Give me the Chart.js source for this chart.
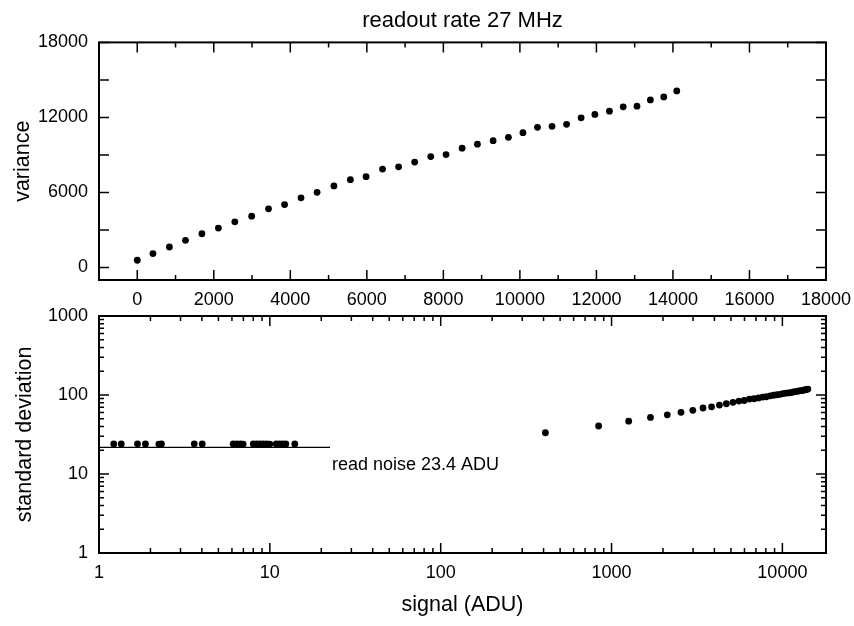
<!DOCTYPE html>
<html>
<head>
<meta charset="utf-8">
<script src="https://cdn.jsdelivr.net/npm/chart.js@4.4.1/dist/chart.umd.min.js"></script>
<style>
  html, body { margin: 0; padding: 0; background: #fff; }
  #wrap { position: relative; width: 854px; height: 626px; }
  canvas { position: absolute; left: 0; }
  #top { top: 0; }
  #bottom { top: 296px; }
</style>
</head>
<body>
<div id="wrap">
  <canvas id="top" width="854" height="312"></canvas>
  <canvas id="bottom" width="854" height="330"></canvas>
</div>
<script>
// variance vs signal (linear panel)
const signalTop = [0, 410, 840, 1260, 1690, 2120, 2550, 2990, 3430, 3850, 4280, 4700, 5140, 5570, 5980,
  6410, 6830, 7250, 7670, 8070, 8490, 8890, 9300, 9700, 10080, 10460, 10840, 11220, 11600, 11960,
  12340, 12700, 13060, 13410, 13760, 14100];
const varianceTop = [580, 1110, 1640, 2170, 2700, 3150, 3650, 4100, 4690, 5030, 5570, 6010, 6520, 7020, 7260,
  7870, 8050, 8430, 8870, 9030, 9540, 9860, 10140, 10410, 10780, 11210, 11290, 11450, 11970, 12240,
  12500, 12850, 12900, 13400, 13640, 14120];

// standard deviation vs signal (log panel): bias/dark cluster + illuminated frames
const signalLow = [1.22, 1.35, 1.68, 1.87, 2.24, 2.32, 3.61, 4.02, 6.1, 6.4, 6.74, 6.98, 8.0, 8.37,
  8.75, 9.15, 9.58, 10.0, 10.9, 11.4, 11.9, 12.4, 14.0];
const sdLow = [24.0, 24.0, 24.1, 24.0, 23.9, 24.0, 24.1, 24.0, 24.0, 24.1, 24.0, 23.9, 24.0, 24.0,
  24.1, 24.0, 24.0, 23.9, 24.0, 24.1, 24.0, 24.0, 24.0];
const signalHigh = [410, 840, 1260, 1690, 2120, 2550, 2990, 3430, 3850, 4280, 4700, 5140, 5570, 5980,
  6410, 6830, 7250, 7670, 8070, 8490, 8890, 9300, 9700, 10080, 10460, 10840, 11220, 11600, 11960,
  12340, 12700, 13060, 13410, 13760, 14100];
const sdHigh = [33.3, 40.5, 46.6, 52.0, 56.1, 60.4, 64.0, 68.5, 70.9, 74.6, 77.5, 80.7, 83.8, 85.2,
  88.7, 89.7, 91.8, 94.2, 95.0, 97.7, 99.3, 100.7, 102.0, 103.8, 105.9, 106.3, 107.0, 109.4, 110.6,
  111.8, 113.4, 113.6, 115.8, 116.8, 118.8];

// read noise line
const noiseX = [1, 22.5];
const noiseY = [21.7, 21.7];
const noiseLabel = 'read noise 23.4 ADU';

// tick labels
const topXTicks = [0, 2000, 4000, 6000, 8000, 10000, 12000, 14000, 16000, 18000];
const topYTicks = [0, 6000, 12000, 18000];
const logXTicks = [1, 10, 100, 1000, 10000];
const logYTicks = [1, 10, 100, 1000];

const FONT = '"Liberation Sans", Arial, Helvetica, sans-serif';
const BLACK = '#000';

function toPoints(xs, ys) {
  return xs.map((x, i) => ({ x: x, y: ys[i] }));
}

// positions for the inward tick marks
function linearMarks(from, to, major, minor) {
  const out = [];
  for (let v = from; v <= to; v += minor) out.push([v, v % major === 0 ? 10 : 5]);
  return out;
}
function logMarks(lo, hi) {
  const out = [];
  for (let d = lo; d <= hi; d *= 10) {
    for (let m = 1; m < 10; m++) {
      const v = d * m;
      if (v > hi * 1.8) break;
      out.push([v, m === 1 ? 10 : 5]);
    }
  }
  return out;
}

// frame box + ticks pointing into the plot on all four sides
function frameTicks(xMarks, yMarks) {
  return {
    id: 'frameTicks',
    afterDatasetsDraw(chart) {
      const { ctx, chartArea: a, scales } = chart;
      ctx.save();
      ctx.strokeStyle = BLACK;
      ctx.lineWidth = 1.5;
      ctx.beginPath();
      xMarks.forEach(([v, len]) => {
        const px = scales.x.getPixelForValue(v);
        if (px < a.left + 1 || px > a.right - 1) return;
        ctx.moveTo(px, a.bottom); ctx.lineTo(px, a.bottom - len);
        ctx.moveTo(px, a.top); ctx.lineTo(px, a.top + len);
      });
      yMarks.forEach(([v, len]) => {
        const py = scales.y.getPixelForValue(v);
        if (py < a.top - 1 || py > a.bottom + 1) return;
        ctx.moveTo(a.left, py); ctx.lineTo(a.left + len, py);
        ctx.moveTo(a.right, py); ctx.lineTo(a.right - len, py);
      });
      ctx.stroke();
      ctx.lineWidth = 2;
      ctx.strokeRect(a.left, a.top, a.right - a.left, a.bottom - a.top);
      ctx.restore();
    }
  };
}

const noiseText = {
  id: 'noiseText',
  afterDatasetsDraw(chart) {
    const { ctx, scales } = chart;
    ctx.save();
    ctx.fillStyle = BLACK;
    ctx.font = '18px ' + FONT;
    ctx.textAlign = 'left';
    ctx.textBaseline = 'middle';
    ctx.fillText(noiseLabel, scales.x.getPixelForValue(23.1), scales.y.getPixelForValue(13));
    ctx.restore();
  }
};

function fixedTicks(values) {
  return scale => { scale.ticks = values.map(v => ({ value: v })); };
}
// fixed axis size, and no extra room for labels hanging over the plot edges
function fixSize(prop, size) {
  return scale => {
    scale[prop] = size;
    scale.paddingLeft = scale.paddingRight = scale.paddingTop = scale.paddingBottom = 0;
  };
}

const tickFont = { family: FONT, size: 18 };
const titleFont = { family: FONT, size: 21.5 };
const plain = v => String(v);
const dots = { backgroundColor: BLACK, borderColor: BLACK, borderWidth: 0, pointRadius: 3.4, pointHoverRadius: 3.4 };

new Chart(document.getElementById('top'), {
  type: 'scatter',
  data: {
    datasets: [Object.assign({ data: toPoints(signalTop, varianceTop) }, dots)]
  },
  options: {
    responsive: false,
    animation: false,
    events: [],
    layout: { padding: { left: 0, right: 28, top: 0, bottom: 0 } },
    plugins: {
      legend: { display: false },
      tooltip: { enabled: false },
      title: {
        display: true,
        text: 'readout rate 27 MHz',
        color: BLACK,
        fullSize: false,
        font: { family: FONT, size: 22, weight: 'normal' },
        padding: { top: 8, bottom: 8 }
      }
    },
    scales: {
      x: {
        type: 'linear',
        min: -1000,
        max: 18000,
        grid: { display: false, drawTicks: false },
        border: { display: false },
        ticks: { color: BLACK, font: tickFont, padding: 9, maxRotation: 0, autoSkip: false, callback: plain },
        afterBuildTicks: fixedTicks(topXTicks),
        afterFit: fixSize('height', 32)
      },
      y: {
        type: 'linear',
        min: -1000,
        max: 18000,
        grid: { display: false, drawTicks: false },
        border: { display: false },
        ticks: { color: BLACK, font: tickFont, padding: 11, autoSkip: false, callback: plain },
        afterBuildTicks: fixedTicks(topYTicks),
        afterFit: fixSize('width', 99),
        title: { display: true, text: 'variance', color: BLACK, font: titleFont, padding: { top: 10, bottom: 0 } }
      }
    }
  },
  plugins: [frameTicks(linearMarks(0, 18000, 2000, 1000), linearMarks(0, 18000, 3000, 3000))]
});

new Chart(document.getElementById('bottom'), {
  type: 'scatter',
  data: {
    datasets: [
      Object.assign({ data: toPoints(signalLow, sdLow) }, dots),
      Object.assign({ data: toPoints(signalHigh, sdHigh) }, dots),
      {
        data: toPoints(noiseX, noiseY),
        showLine: true,
        borderColor: BLACK,
        borderWidth: 1.2,
        pointRadius: 0,
        pointHoverRadius: 0
      }
    ]
  },
  options: {
    responsive: false,
    animation: false,
    events: [],
    layout: { padding: { left: 0, right: 28, top: 20, bottom: 0 } },
    plugins: { legend: { display: false }, tooltip: { enabled: false } },
    scales: {
      x: {
        type: 'logarithmic',
        min: 1,
        max: 18000,
        grid: { display: false, drawTicks: false },
        border: { display: false },
        ticks: { color: BLACK, font: tickFont, padding: 9, maxRotation: 0, autoSkip: false, callback: plain },
        afterBuildTicks: fixedTicks(logXTicks),
        afterFit: fixSize('height', 73),
        title: { display: true, text: 'signal (ADU)', color: BLACK, font: titleFont, padding: { top: 0, bottom: 8 } }
      },
      y: {
        type: 'logarithmic',
        min: 1,
        max: 1000,
        grid: { display: false, drawTicks: false },
        border: { display: false },
        ticks: { color: BLACK, font: tickFont, padding: 11, autoSkip: false, callback: plain },
        afterBuildTicks: fixedTicks(logYTicks),
        afterFit: fixSize('width', 99),
        title: { display: true, text: 'standard deviation', color: BLACK, font: titleFont, padding: { top: 12, bottom: 0 } }
      }
    }
  },
  plugins: [frameTicks(logMarks(1, 10000), logMarks(1, 1000)), noiseText]
});
</script>
</body>
</html>
